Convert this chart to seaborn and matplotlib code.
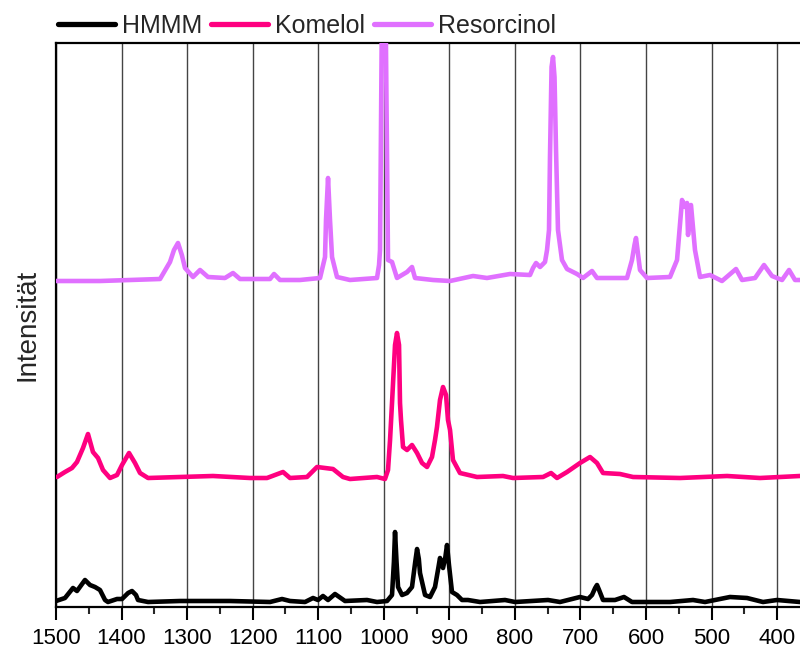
import numpy as np
import pandas as pd
import matplotlib
matplotlib.use("Agg")
import matplotlib.pyplot as plt
import seaborn as sns
from matplotlib.ticker import MultipleLocator

# ---- data (wavenumber in cm^-1, stacked intensity in arbitrary units) ----
hmmm_wn = [1500, 1486.3, 1474.1, 1468.0, 1455.8, 1448.1, 1440.5, 1432.9, 1425.2, 1420.7,
           1406.9, 1399.3, 1390.0, 1384.1, 1378.0, 1374.9, 1359.6, 1310.8, 1234.5, 1173.5,
           1155.2, 1143.0, 1120.1, 1107.9, 1100.3, 1092.7, 1085.0, 1074.4, 1059.1, 1025.5,
           1010.3, 995.0, 987.4, 984.5, 982.8, 980.5, 978.2, 972.1, 964.5, 956.9,
           952.0, 949.2, 946.5, 944.7, 937.0, 929.4, 921.8, 916.5, 914.2, 909.6,
           906.0, 903.5, 900.5, 895.9, 888.3, 880.6, 871.5, 853.1, 815.0, 799.7,
           749.4, 731.1, 700.6, 688.4, 682.3, 677.5, 674.7, 671.5, 665.5, 647.2,
           633.5, 621.3, 563.3, 528.2, 509.9, 471.8, 445.8, 421.4, 400.0, 365.0]
hmmm_int = [6, 9, 19, 16, 27, 22, 20, 17, 7, 5,
            8, 8, 14, 16, 12, 7, 5, 6, 6, 5,
            8, 6, 5, 9, 7, 11, 7, 13, 6, 7,
            5, 6, 12, 45, 75, 45, 20, 12, 14, 20,
            45, 58, 48, 34, 12, 10, 20, 40, 49, 39,
            50, 62, 42, 15, 12, 7, 7, 5, 7, 5,
            7, 5, 10, 8, 12, 19, 22, 17, 7, 7,
            10, 5, 5, 7, 5, 10, 9, 5, 7, 5]

komelol_wn = [1498.5, 1486.3, 1475.6, 1468.0, 1458.8, 1451.2, 1443.6, 1435.9, 1428.3, 1417.6,
              1406.9, 1399.3, 1388.6, 1379.5, 1371.8, 1359.6, 1310.8, 1260.5, 1204.0, 1178.1,
              1153.7, 1143.0, 1117.1, 1101.8, 1077.4, 1062.2, 1051.5, 1010.3, 998.1, 993.5,
              990.4, 987.4, 982.8, 979.8, 976.7, 975.2, 973.7, 970.6, 964.5, 956.9,
              949.2, 941.6, 934.0, 926.4, 921.8, 918.8, 914.2, 909.6, 905.0, 902.0,
              898.9, 894.4, 883.7, 857.7, 818.1, 802.8, 757.0, 744.8, 735.7, 720.4,
              700.6, 685.3, 674.7, 665.5, 639.6, 619.7, 548.0, 476.3, 426.0, 365.0]
komelol_int = [130, 135, 139, 145, 159, 173, 155, 149, 137, 129,
               132, 142, 154, 144, 134, 129, 130, 131, 129, 129,
               135, 129, 130, 140, 138, 130, 128, 130, 128, 137,
               167, 204, 262, 274, 262, 204, 187, 160, 157, 162,
               154, 144, 140, 150, 167, 180, 207, 220, 212, 187,
               177, 147, 134, 130, 131, 129, 130, 134, 129, 135,
               144, 150, 144, 134, 133, 130, 129, 131, 129, 131]

resorcinol_wn = [1500, 1432.9, 1341.3, 1326.1, 1320.0, 1313.9, 1308.0, 1303.2, 1291.0, 1280.3,
                 1268.1, 1242.2, 1230.0, 1219.3, 1173.5, 1167.4, 1158.3, 1127.8, 1097.2, 1089.6,
                 1088.1, 1085.0, 1082.0, 1078.9, 1071.3, 1051.5, 1010.3, 1007.2, 1005.7, 1002.5,
                 1000.0, 997.5, 993.5, 987.4, 979.8, 964.5, 956.9, 952.3, 924.8, 898.9,
                 863.8, 842.5, 807.4, 776.9, 772.3, 767.7, 761.6, 754.0, 750.9, 747.9,
                 746.4, 744.0, 741.8, 739.5, 737.2, 734.2, 728.1, 720.4, 705.2, 696.0,
                 682.3, 674.7, 628.9, 621.3, 617.5, 615.2, 612.5, 609.1, 598.4, 563.3,
                 552.6, 545.0, 540.4, 537.4, 535.8, 531.3, 525.2, 517.5, 502.3, 484.0,
                 462.6, 453.4, 433.6, 419.9, 407.7, 392.4, 381.7, 372.6, 365.0]
resorcinol_int = [326, 326, 328, 345, 357, 364, 352, 339, 330, 337,
                  330, 329, 334, 328, 328, 333, 327, 327, 329, 350,
                  387, 429, 387, 350, 330, 327, 329, 342, 357, 620,
                  900, 620, 347, 345, 329, 335, 340, 329, 327, 326,
                  331, 329, 333, 332, 339, 344, 340, 345, 357, 377,
                  450, 540, 550, 530, 457, 377, 347, 338, 333, 329,
                  336, 329, 329, 347, 362, 369, 355, 337, 329, 330,
                  347, 407, 400, 404, 372, 402, 357, 330, 332, 326,
                  338, 327, 329, 342, 331, 327, 337, 327, 327]

series_names = ["HMMM", "Komelol", "Resorcinol"]
series_colors = ["#000000", "#FF0080", "#E070FF"]
x_ticks = [1500, 1400, 1300, 1200, 1100, 1000, 900, 800, 700, 600, 500, 400]

df = pd.concat([
    pd.DataFrame({"wn": hmmm_wn, "val": hmmm_int, "series": "HMMM"}),
    pd.DataFrame({"wn": komelol_wn, "val": komelol_int, "series": "Komelol"}),
    pd.DataFrame({"wn": resorcinol_wn, "val": resorcinol_int, "series": "Resorcinol"}),
], ignore_index=True)

sns.set_style("white")
plt.rcParams["font.family"] = ["Liberation Sans", "DejaVu Sans"]

fig = plt.figure(figsize=(8, 6.48), dpi=100)
ax = fig.add_axes([56 / 800, 41 / 648, 744 / 800, 564 / 648])

sns.lineplot(data=df, x="wn", y="val", hue="series", hue_order=series_names,
             palette=dict(zip(series_names, series_colors)), linewidth=3.3,
             sort=False, estimator=None, ax=ax, legend=False, zorder=3)
for ln in ax.lines:
    ln.set_solid_joinstyle("round")
    ln.set_solid_capstyle("round")

ax.set_xlim(1500, 365)
ax.set_ylim(0, 564)
ax.set_xticks(x_ticks)
ax.set_xticklabels([str(t) for t in x_ticks])
ax.xaxis.set_minor_locator(MultipleLocator(50))
ax.set_yticks([])
ax.grid(axis="x", which="major", color="#444444", linewidth=1.0, zorder=0)
ax.set_axisbelow(True)

ax.tick_params(axis="x", which="major", direction="out", length=9, width=1.5,
               labelsize=16, pad=6, colors="black", bottom=True)
ax.tick_params(axis="x", which="minor", direction="out", length=5, width=1.5,
               bottom=True)

for side in ["left", "top", "bottom"]:
    ax.spines[side].set_color("black")
    ax.spines[side].set_linewidth(1.6)
ax.spines["right"].set_visible(False)

ax.set_xlabel("")
ax.set_ylabel("Intensität", fontsize=20)
ax.yaxis.set_label_coords(-0.021, 0.5)

handles = [plt.Line2D([], [], color=c, linewidth=3.8) for c in series_colors]
fig.legend(handles, series_names, loc="center left",
           bbox_to_anchor=(58 / 800, 1 - 26 / 648), ncol=3, frameon=False,
           fontsize=18, handlelength=2.28, handletextpad=0.28,
           columnspacing=0.36, borderpad=0, borderaxespad=0)

fig.savefig("out.png", dpi=100)
